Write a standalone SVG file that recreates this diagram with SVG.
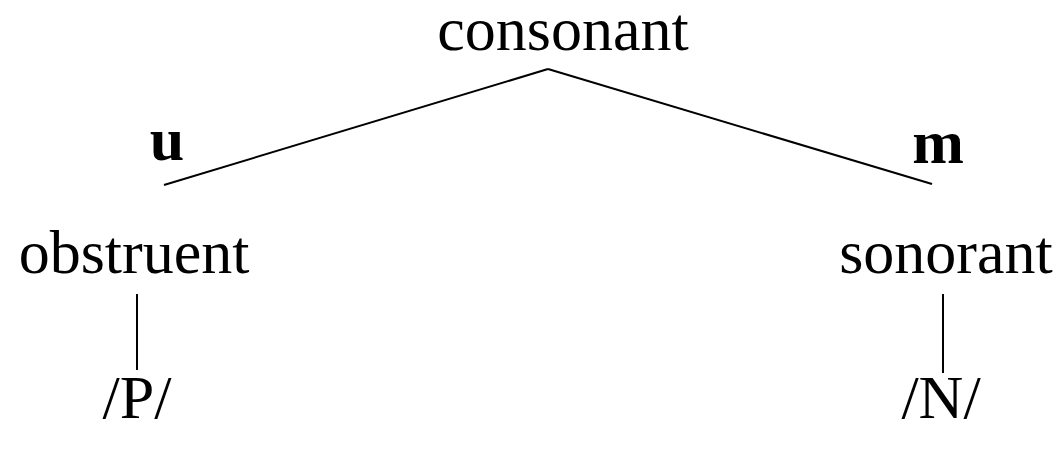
<svg xmlns="http://www.w3.org/2000/svg" width="1059" height="450" viewBox="0 0 1059 450">
<style>
text{font-family:"Liberation Serif","Times New Roman",serif;font-size:62px;fill:#000;text-anchor:middle}
.b{font-weight:bold}
.e{stroke:#000;stroke-width:2;fill:none}
</style>
<rect width="1059" height="450" fill="#fff"/>
<g id="connectors">
<line class="e" x1="548" y1="69" x2="164" y2="185"/>
<line class="e" x1="548" y1="69" x2="932" y2="184"/>
<line class="e" x1="137" y1="294" x2="137" y2="370"/>
<line class="e" x1="943" y1="294" x2="943" y2="373"/>
</g>
<g id="consonant"><text x="563" y="50">consonant</text></g>
<g id="label-u"><text class="b" x="167" y="160">u</text></g>
<g id="label-m"><text class="b" x="938" y="163">m</text></g>
<g id="obstruent"><text x="134" y="273">obstruent</text></g>
<g id="sonorant"><text x="946" y="273">sonorant</text></g>
<g id="P"><text x="137" y="418">/P/</text></g>
<g id="N"><text x="941" y="418">/N/</text></g>
</svg>
